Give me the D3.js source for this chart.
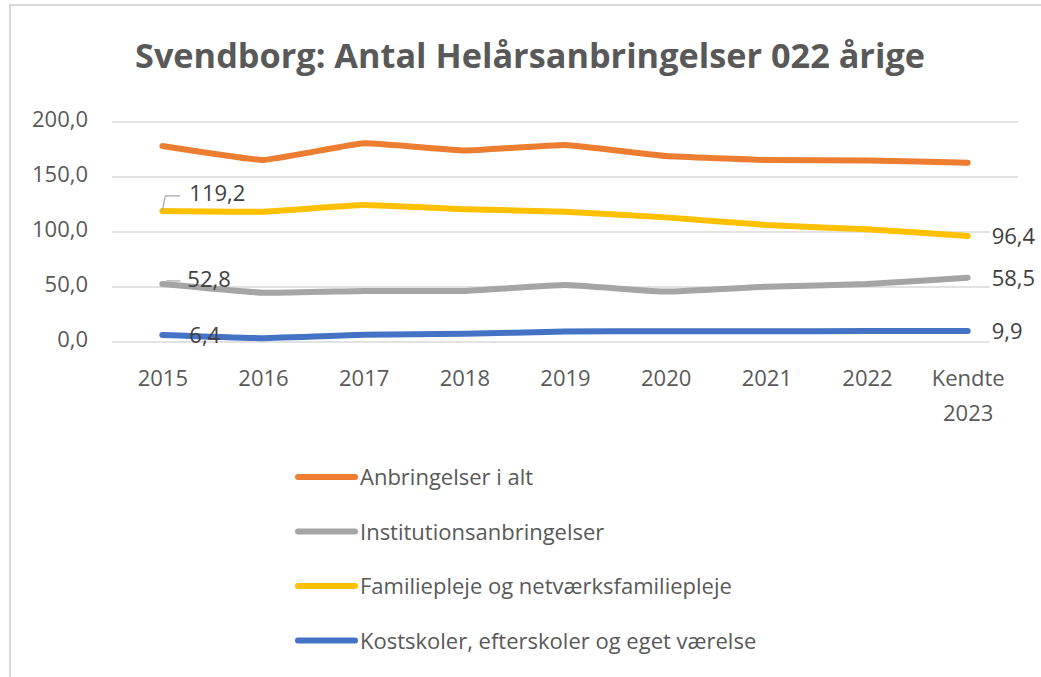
<!DOCTYPE html>
<html>
<head>
<meta charset="utf-8">
<script src="https://cdn.jsdelivr.net/npm/d3@7"></script>
<style>
  body { margin: 0; background: #fff; }
  text { font-family: "Open Sans", sans-serif; }
</style>
</head>
<body>
<div id="chart"></div>
<script>
// data
var categories = ["2015", "2016", "2017", "2018", "2019", "2020", "2021", "2022", "Kendte 2023"];
var seriesNames = ["Anbringelser i alt", "Institutionsanbringelser", "Familiepleje og netværksfamiliepleje", "Kostskoler, efterskoler og eget værelse"];
var seriesColors = ["#ED7D31", "#A5A5A5", "#FFC000", "#4472C4"];
var anbringelser = [178.2, 165.5, 180.6, 174.0, 179.0, 169.0, 165.5, 165.0, 163.0];
var institution = [52.8, 44.8, 46.4, 46.4, 51.8, 45.8, 50.3, 52.7, 58.5];
var familiepleje = [119.2, 118.5, 124.5, 120.7, 118.5, 113.3, 106.4, 102.4, 96.4];
var kostskoler = [6.4, 3.5, 6.5, 7.5, 9.5, 9.8, 9.8, 9.9, 9.9];
var yTicks = [0, 50, 100, 150, 200];

var seriesValues = [anbringelser, institution, familiepleje, kostskoler];
// draw order in the picture: orange on top of the rest
var drawOrder = [3, 1, 2, 0];

var W = 1041, H = 677;
var margin = {top: 122, left: 112, right: 23};
var plotW = W - margin.left - margin.right,
    plotH = 220;

var fmt = function(v) { return d3.format(".1f")(v).replace(".", ","); };

var svg = d3.select("#chart").append("svg")
    .attr("width", W)
    .attr("height", H);

// chart frame
svg.append("rect")
    .attr("x", 10).attr("y", 5)
    .attr("width", W + 20).attr("height", H + 20)
    .attr("fill", "#fff")
    .attr("stroke", "#d9d9d9")
    .attr("stroke-width", 2);

// title
svg.append("text")
    .attr("x", 530).attr("y", 68)
    .attr("text-anchor", "middle")
    .attr("font-size", "34px")
    .attr("font-weight", "bold")
    .attr("fill", "#595959")
    .attr("textLength", 790)
    .attr("lengthAdjust", "spacingAndGlyphs")
    .text("Svendborg: Antal Helårsanbringelser 022 årige");

var g = svg.append("g")
    .attr("transform", "translate(" + margin.left + "," + margin.top + ")");

var x = d3.scalePoint().domain(categories).range([0, plotW]).padding(0.5);
var y = d3.scaleLinear().domain([0, 200]).range([plotH, 0]);

// gridlines
g.selectAll(".grid")
    .data(yTicks)
  .enter().append("line")
    .attr("x1", 0).attr("x2", plotW)
    .attr("y1", function(d) { return y(d); })
    .attr("y2", function(d) { return y(d); })
    .attr("stroke", "#d9d9d9")
    .attr("stroke-width", 1.5);

// y axis labels
var yAxis = g.append("g")
    .call(d3.axisLeft(y).tickValues(yTicks).tickSize(0).tickPadding(24).tickFormat(fmt));
yAxis.select(".domain").remove();
yAxis.selectAll("text")
    .attr("font-size", "22px")
    .attr("fill", "#595959")
    .attr("dy", "0.22em");

// x axis labels (wrapped)
var xAxis = g.append("g")
    .attr("transform", "translate(0," + plotH + ")")
    .call(d3.axisBottom(x).tickSize(0).tickFormat(""));
xAxis.select(".domain").remove();
xAxis.selectAll(".tick").each(function(d) {
  var words = d.split(" ");
  var t = d3.select(this).append("text")
      .attr("fill", "#595959")
      .attr("font-size", "22px")
      .attr("text-anchor", "middle");
  words.forEach(function(w, i) {
    t.append("tspan").attr("x", 0).attr("y", 44 + i * 35).text(w);
  });
});

// Excel-style light smoothing
var line = d3.line()
    .curve(d3.curveCardinal.tension(0.7))
    .x(function(d, i) { return x(categories[i]); })
    .y(function(d) { return y(d); });

drawOrder.forEach(function(s) {
  g.append("path")
      .datum(seriesValues[s])
      .attr("fill", "none")
      .attr("stroke", seriesColors[s])
      .attr("stroke-width", 6)
      .attr("stroke-linecap", "round")
      .attr("stroke-linejoin", "round")
      .attr("d", line);
});

// first-point labels with leader lines
var first = categories[0], last = categories[categories.length - 1];
var leftLabels = [
  {v: familiepleje[0], dx: 27, dy: -10, leader: "bend"},
  {v: institution[0], dx: 25, dy: 3, leader: "dash"},
  {v: kostskoler[0], dx: 27, dy: 8, leader: "none"}
];
leftLabels.forEach(function(d) {
  var px = x(first), py = y(d.v);
  if (d.leader === "bend") {
    g.append("path")
        .attr("d", "M" + px + "," + py + "L" + (px + 3) + "," + (py - 15) + "L" + (px + 18) + "," + (py - 15))
        .attr("fill", "none").attr("stroke", "#a6a6a6").attr("stroke-width", 1.2);
  } else if (d.leader === "dash") {
    g.append("path")
        .attr("d", "M" + (px + 4) + "," + (py - 3) + "L" + (px + 18) + "," + (py - 3))
        .attr("fill", "none").attr("stroke", "#a6a6a6").attr("stroke-width", 1.2);
  }
  g.append("text")
      .attr("x", px + d.dx).attr("y", py + d.dy)
      .attr("font-size", "22px")
      .attr("fill", "#404040")
      .text(fmt(d.v));
});

// last-point labels
var rightLabels = [familiepleje, institution, kostskoler];
rightLabels.forEach(function(vals) {
  var v = vals[vals.length - 1];
  var px = x(last) + 24, py = y(v);
  g.append("rect")
      .attr("x", px - 2).attr("y", py - 14)
      .attr("width", 48).attr("height", 26)
      .attr("fill", "#fff");
  g.append("text")
      .attr("x", px).attr("y", py + 8)
      .attr("font-size", "22px")
      .attr("fill", "#404040")
      .text(fmt(v));
});

// legend
var legend = svg.append("g").attr("transform", "translate(296,477)");
seriesNames.forEach(function(name, i) {
  var row = legend.append("g").attr("transform", "translate(0," + (i * 54.5) + ")");
  row.append("line")
      .attr("x1", 2).attr("x2", 59)
      .attr("stroke", seriesColors[i])
      .attr("stroke-width", 6)
      .attr("stroke-linecap", "round");
  row.append("text")
      .attr("x", 64).attr("y", 8)
      .attr("font-size", "22px")
      .attr("fill", "#595959")
      .text(name);
});
</script>
</body>
</html>
